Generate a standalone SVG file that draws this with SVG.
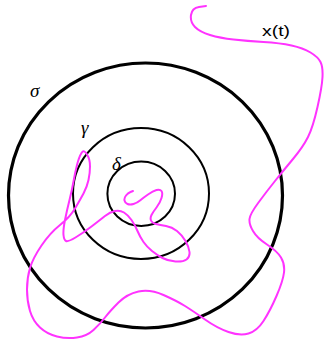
<svg xmlns="http://www.w3.org/2000/svg" width="324" height="342" viewBox="0 0 324 342">
<style>
.ring{fill:none;stroke:#000}
.lbl{font-family:"Liberation Serif",serif;font-style:italic;font-size:19px;fill:#000}
.path{fill:none;stroke:#ff33ff;stroke-width:2;stroke-linecap:round;stroke-linejoin:round}
</style>
<rect width="324" height="342" fill="#fff"/>
<g id="sigma">
<ellipse class="ring" cx="145.5" cy="195.5" rx="137" ry="132.5" stroke-width="3.2"/>
<text class="lbl" x="30" y="97">σ</text>
</g>
<g id="gamma">
<ellipse class="ring" cx="141" cy="193.5" rx="68" ry="65.5" stroke-width="2"/>
<text class="lbl" x="81" y="134">γ</text>
</g>
<g id="delta">
<ellipse class="ring" cx="141.2" cy="193.8" rx="33.8" ry="32.2" stroke-width="2"/>
<text class="lbl" x="112" y="170">δ</text>
</g>
<g id="trajectory">
<path class="path" d="M206,6 L199,7 Q192,8 191,15 Q190,22 195,27 Q200,32 210,35 Q220,38 233.5,39.5 Q247,41 263.5,42 Q280,43 291.5,45.5 Q303,48 310.5,52.5 Q318,57 320.5,62 Q323,67 322.5,77 Q322,87 317.5,107 Q313,127 308,137 Q303,147 293,159 Q283,171 275,181 Q267,191 258.5,202.5 Q250,214 249.5,219 Q249,224 253,231 Q257,238 267,244.5 Q277,251 281,257.5 Q285,264 284,272.5 Q283,281 276.5,296 Q270,311 263.5,321 Q257,331 248.5,333.5 Q240,336 228.5,332 Q217,328 205,319.5 Q193,311 185,306 Q177,301 163.5,295 Q150,289 138.5,291.5 Q127,294 118.5,302.5 Q110,311 105,317.5 Q100,324 93.5,330 Q87,336 77,337.5 Q67,339 57,336.5 Q47,334 40,327.5 Q33,321 30,311 Q27,301 27,289.5 Q27,278 30,268 Q33,258 41.5,245.5 Q50,233 60,225 Q70,217 75,208.5 Q80,200 83.5,193.5 Q87,187 88.5,180 Q90,173 90,166.5 Q90,159 87,154.5 Q84,149 81.5,153 Q79,157 77,165 Q75,173 73.5,181.5 Q72,190 69.5,200 Q67,210 65,220 Q63,230 63.5,235 Q64,240 66,241 Q68,242 75.5,237.5 Q83,233 91.5,226.5 Q100,220 105,216 Q110,212 115,211 Q120,210 124,212.5 Q128,215 131.5,220 Q135,225 137.5,231 Q140,237 143.5,242 Q147,247 152,251 Q157,255 162.5,258 Q168,261 175.5,261.5 Q183,262 186.5,259.5 Q190,257 189.5,252 Q189,247 185.5,241 Q182,235 177,231 Q172,227 166,226 Q160,225 156,224 Q152,223 151,220.5 Q150,218 151.5,215 Q153,212 156.5,207.5 Q160,203 161.5,198 Q163,193 161.5,191 Q160,189 156.5,190 Q153,191 148,194.5 Q143,198 140,200.5 Q137,203 133.5,204 Q130,205 127.5,204 Q125,203 124.5,200.5 Q124,198 126,195.5 Q128,193 130.5,192 L133,191"/>
<text x="262" y="36" font-family="'Liberation Sans',sans-serif" font-size="14" textLength="28" lengthAdjust="spacingAndGlyphs" fill="#000">x(t)</text>
</g>
</svg>
